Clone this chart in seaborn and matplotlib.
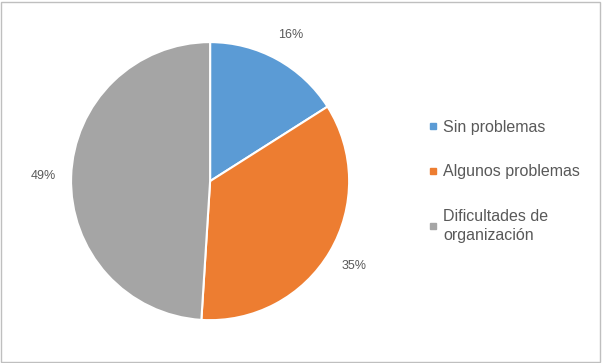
import matplotlib
matplotlib.use("Agg")
import matplotlib.pyplot as plt
from matplotlib.lines import Line2D
from matplotlib.patches import Rectangle
import seaborn as sns

# datos
categorias = ["Sin problemas", "Algunos problemas", "Dificultades de\norganización"]
porcentajes = [16, 35, 49]
colores = ["#5B9BD5", "#ED7D31", "#A5A5A5"]

sns.set_theme(style="white")
plt.rcParams['font.family'] = ['Liberation Sans', 'DejaVu Sans']

fig = plt.figure(figsize=(6.02, 3.63), dpi=100)
ax = fig.add_axes([0.118, 0.118, 0.462, 0.766])

wedges, textos, pcts = ax.pie(
    porcentajes, colors=colores, startangle=90, counterclock=False,
    autopct=lambda p: f"{p:.0f}%", pctdistance=1.2,
    wedgeprops=dict(edgecolor="white", linewidth=1.5),
    textprops=dict(color="#595959", fontsize=9))
ax.set_aspect("equal")
ax.set_xlim(-1, 1)
ax.set_ylim(-1, 1)

# leyenda con cuadraditos
handles = [Line2D([], [], marker="s", linestyle="", markersize=4.5,
                  markerfacecolor=c, markeredgecolor=c) for c in colores]
leg = fig.legend(handles, categorias, loc="center left", bbox_to_anchor=(0.688, 0.50),
                 frameon=False, fontsize=11.5, labelcolor="#595959",
                 handlelength=0.55, handletextpad=0.35, labelspacing=1.85)
for t in leg.get_texts():
    t.set_linespacing(1.4)

# borde del gráfico
fig.patches.append(Rectangle((0.002, 0.003), 0.995, 0.992, transform=fig.transFigure,
                             fill=False, edgecolor="#BFBFBF", linewidth=1))

fig.savefig("out.png", dpi=100)
